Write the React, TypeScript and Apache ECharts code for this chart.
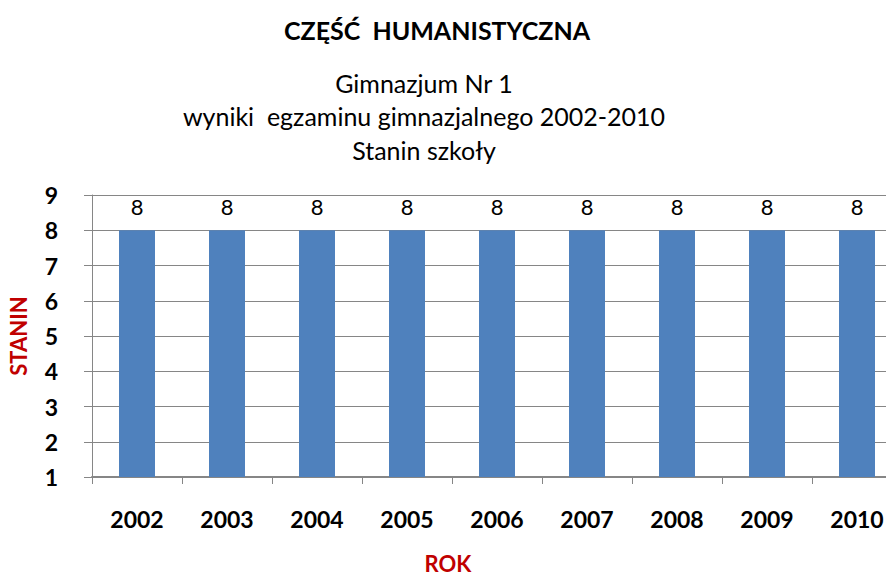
import React, { useEffect, useRef } from "react";
import * as echarts from "echarts";

const years = ["2002", "2003", "2004", "2005", "2006", "2007", "2008", "2009", "2010"];
const stanin = [8, 8, 8, 8, 8, 8, 8, 8, 8];
const titleText = "CZĘŚĆ  HUMANISTYCZNA";
const subtitleLines = ["Gimnazjum Nr 1", "wyniki  egzaminu gimnazjalnego 2002-2010", "Stanin szkoły"];
const xAxisName = "ROK";
const yAxisName = "STANIN";

const FONT = "Lato, 'Open Sans', sans-serif";

export default function App() {
  const ref = useRef<HTMLDivElement>(null);
  useEffect(() => {
    if (!ref.current) return;
    const chart = echarts.init(ref.current, null, { renderer: "svg" });
    chart.setOption({
      animation: false,
      backgroundColor: "#ffffff",
      textStyle: { fontFamily: FONT },
      grid: { left: 92, top: 195, bottom: 99, right: 0, containLabel: false },
      graphic: [
        {
          type: "text",
          x: 437,
          y: 30,
          style: {
            text: titleText,
            font: `bold 25px ${FONT}`,
            fill: "#000",
            textAlign: "center",
            textVerticalAlign: "middle",
          },
        },
        {
          type: "text",
          x: 424,
          y: 116,
          style: {
            text: subtitleLines.join("\n"),
            font: `25px ${FONT}`,
            lineHeight: 33.5,
            fill: "#000",
            textAlign: "center",
            textVerticalAlign: "middle",
          },
        },
        {
          type: "text",
          x: 448,
          y: 574,
          style: {
            text: xAxisName,
            font: `bold 22px ${FONT}`,
            fill: "#C00000",
            textAlign: "center",
            textVerticalAlign: "bottom",
          },
        },
        {
          type: "text",
          x: 18,
          y: 336,
          rotation: Math.PI / 2,
          style: {
            text: yAxisName,
            font: `bold 22px ${FONT}`,
            fill: "#C00000",
            textAlign: "center",
            textVerticalAlign: "middle",
          },
        },
      ],
      xAxis: {
        type: "category",
        data: years,
        boundaryGap: true,
        axisLine: { show: true, lineStyle: { color: "#868686", width: 2 } },
        axisTick: { show: true, alignWithLabel: false, length: 7, lineStyle: { color: "#868686", width: 1 } },
        axisLabel: { margin: 30, color: "#000", fontSize: 23, fontWeight: "bold", fontFamily: FONT },
        splitLine: { show: false },
      },
      yAxis: {
        type: "value",
        min: 1,
        max: 9,
        interval: 1,
        axisLine: { show: true, lineStyle: { color: "#868686", width: 1 } },
        axisTick: { show: true, length: 8, inside: false, lineStyle: { color: "#868686", width: 1 } },
        axisLabel: { margin: 34, color: "#000", fontSize: 23, fontWeight: "bold", fontFamily: FONT },
        splitLine: { show: true, lineStyle: { color: "#868686", width: 1 } },
      },
      series: [
        {
          type: "bar",
          data: stanin,
          barWidth: 36,
          itemStyle: { color: "#4F81BD" },
          label: {
            show: true,
            position: "top",
            distance: 13,
            color: "#000",
            fontSize: 22,
            fontFamily: FONT,
          },
        },
      ],
    });
    return () => chart.dispose();
  }, []);
  return (
    <div style={{ position: "fixed", left: 0, top: 0, width: 886, height: 576, overflow: "hidden" }}>
      <div ref={ref} style={{ width: 902, height: 576 }} />
    </div>
  );
}
